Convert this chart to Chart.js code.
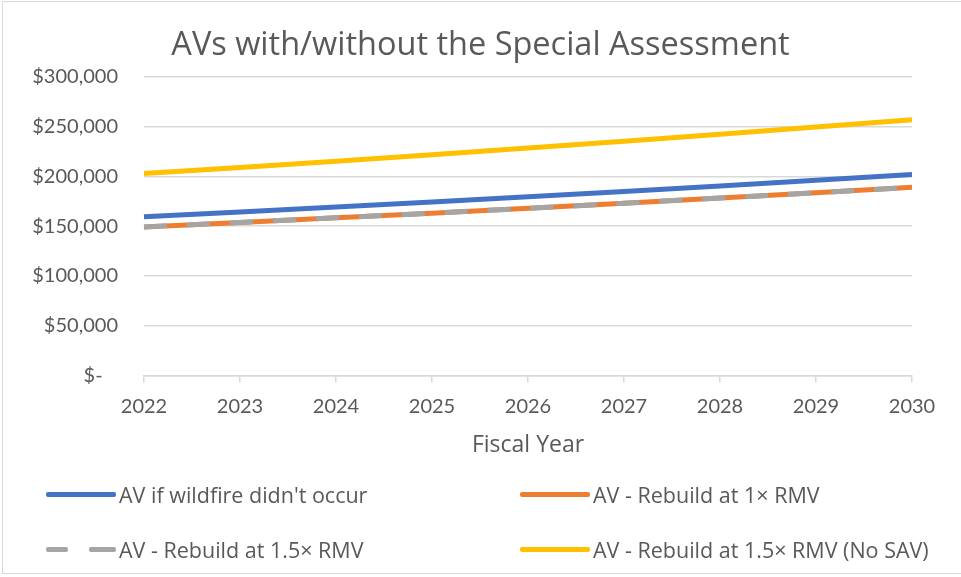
<!DOCTYPE html>
<html>
<head>
<meta charset="utf-8">
<script src="https://cdn.jsdelivr.net/npm/chart.js@4"></script>
<style>
  body { margin: 0; background: #fff; }
  #wrap { position: relative; width: 961px; height: 577px; overflow: hidden; }
  #frame { position: absolute; left: 2px; top: 1px; width: 980px; height: 573px;
           border: 1px solid #d9d9d9; box-sizing: border-box; }
  canvas { position: absolute; left: 0; top: 0; }
  .leg { position: absolute; display: flex; align-items: center; height: 24px;
         font: 21.5px 'Open Sans', sans-serif; color: #595959; white-space: nowrap; }
  .sw { width: 70px; height: 5px; border-radius: 2px; margin-right: 3px; position: relative; }
  .sw.dash span { position: absolute; top: 0; height: 5px; background: #A5A5A5; border-radius: 2px; }
</style>
</head>
<body>
<div id="wrap">
  <div id="frame"></div>
  <canvas id="c" width="961" height="577"></canvas>
  <div id="legend"></div>
</div>
<script>
// data
const YEARS    = ['2022','2023','2024','2025','2026','2027','2028','2029','2030'];
const NO_FIRE  = [159500, 164300, 169200, 174300, 179500, 184900, 190500, 196200, 202000];
const REB_1X   = [149300, 153800, 158400, 163100, 168000, 173100, 178300, 183600, 189100];
const REB_15X  = [149300, 153800, 158400, 163100, 168000, 173100, 178300, 183600, 189100];
const REB_NOSAV = [203000, 209100, 215400, 221800, 228500, 235300, 242400, 249700, 257100];
const Y_TICKS  = [0, 50000, 100000, 150000, 200000, 250000, 300000];

const FONT = 'Lato, sans-serif';
const WIDE = "'Open Sans', sans-serif";
const TEXT = '#595959';
const GRID = '#d9d9d9';

const SERIES = [
  { label: "AV if wildfire didn't occur",      data: NO_FIRE,   color: '#4472C4' },
  { label: 'AV - Rebuild at 1\u00d7 RMV',       data: REB_1X,    color: '#ED7D31' },
  { label: 'AV - Rebuild at 1.5\u00d7 RMV',     data: REB_15X,   color: '#A5A5A5', dash: [23, 20] },
  { label: 'AV - Rebuild at 1.5\u00d7 RMV (No SAV)', data: REB_NOSAV, color: '#FFC000' },
];

const money = v => v === 0 ? '$-   ' : '$' + v.toLocaleString('en-US');

new Chart(document.getElementById('c'), {
  type: 'line',
  data: {
    labels: YEARS,
    datasets: SERIES.map(s => ({
      label: s.label,
      data: s.data,
      borderColor: s.color,
      backgroundColor: s.color,
      borderWidth: 5,
      borderDash: s.dash || [],
      pointRadius: 0,
      tension: 0,
      order: s.dash ? 0 : 1,
    }))
  },
  options: {
    responsive: false,
    animation: false,
    layout: { padding: { left: 0, right: 0, top: 0, bottom: 114 } },
    plugins: {
      legend: { display: false },
      tooltip: { enabled: false },
      title: {
        display: true,
        text: 'AVs with/without the Special Assessment',
        color: TEXT,
        font: { family: WIDE, size: 32.5, weight: 'normal' },
        padding: { top: 26, bottom: 12 }
      }
    },
    scales: {
      y: {
        min: 0, max: 300000,
        afterBuildTicks: s => { s.ticks = Y_TICKS.map(v => ({ value: v })); },
        afterFit: s => { s.width = 144; },
        ticks: { callback: v => money(v), color: TEXT, font: { family: FONT, size: 20 }, padding: 26 },
        grid: { color: GRID, lineWidth: 1.5, drawTicks: false },
        border: { display: false }
      },
      // empty right axis, only keeps the plot clear of the right edge
      pad: {
        position: 'right', min: 0, max: 300000,
        afterFit: s => { s.width = 49; },
        ticks: { display: false },
        grid: { display: false },
        border: { display: false }
      },
      x: {
        grid: { drawOnChartArea: false, drawTicks: true, tickLength: 7, color: GRID, lineWidth: 1.5 },
        border: { color: GRID, width: 1.5 },
        ticks: { color: TEXT, font: { family: FONT, size: 20 }, padding: 12, maxRotation: 0 },
        title: {
          display: true, text: 'Fiscal Year', color: TEXT,
          font: { family: WIDE, size: 23 }, padding: { top: 1, bottom: 4 }
        }
      }
    }
  }
});

// two-column legend below the plot
const LEG_POS = [[46, 482], [520, 482], [46, 537], [520, 537]];
const legend = document.getElementById('legend');
SERIES.forEach((s, i) => {
  const item = document.createElement('div');
  item.className = 'leg';
  item.style.left = LEG_POS[i][0] + 'px';
  item.style.top = LEG_POS[i][1] + 'px';
  const sw = document.createElement('div');
  sw.className = 'sw';
  if (s.dash) {
    sw.classList.add('dash');
    sw.innerHTML = '<span style="left:0;width:22px"></span><span style="left:43px;width:27px"></span>';
  } else {
    sw.style.background = s.color;
  }
  item.appendChild(sw);
  item.appendChild(document.createTextNode(s.label));
  legend.appendChild(item);
});
</script>
</body>
</html>
